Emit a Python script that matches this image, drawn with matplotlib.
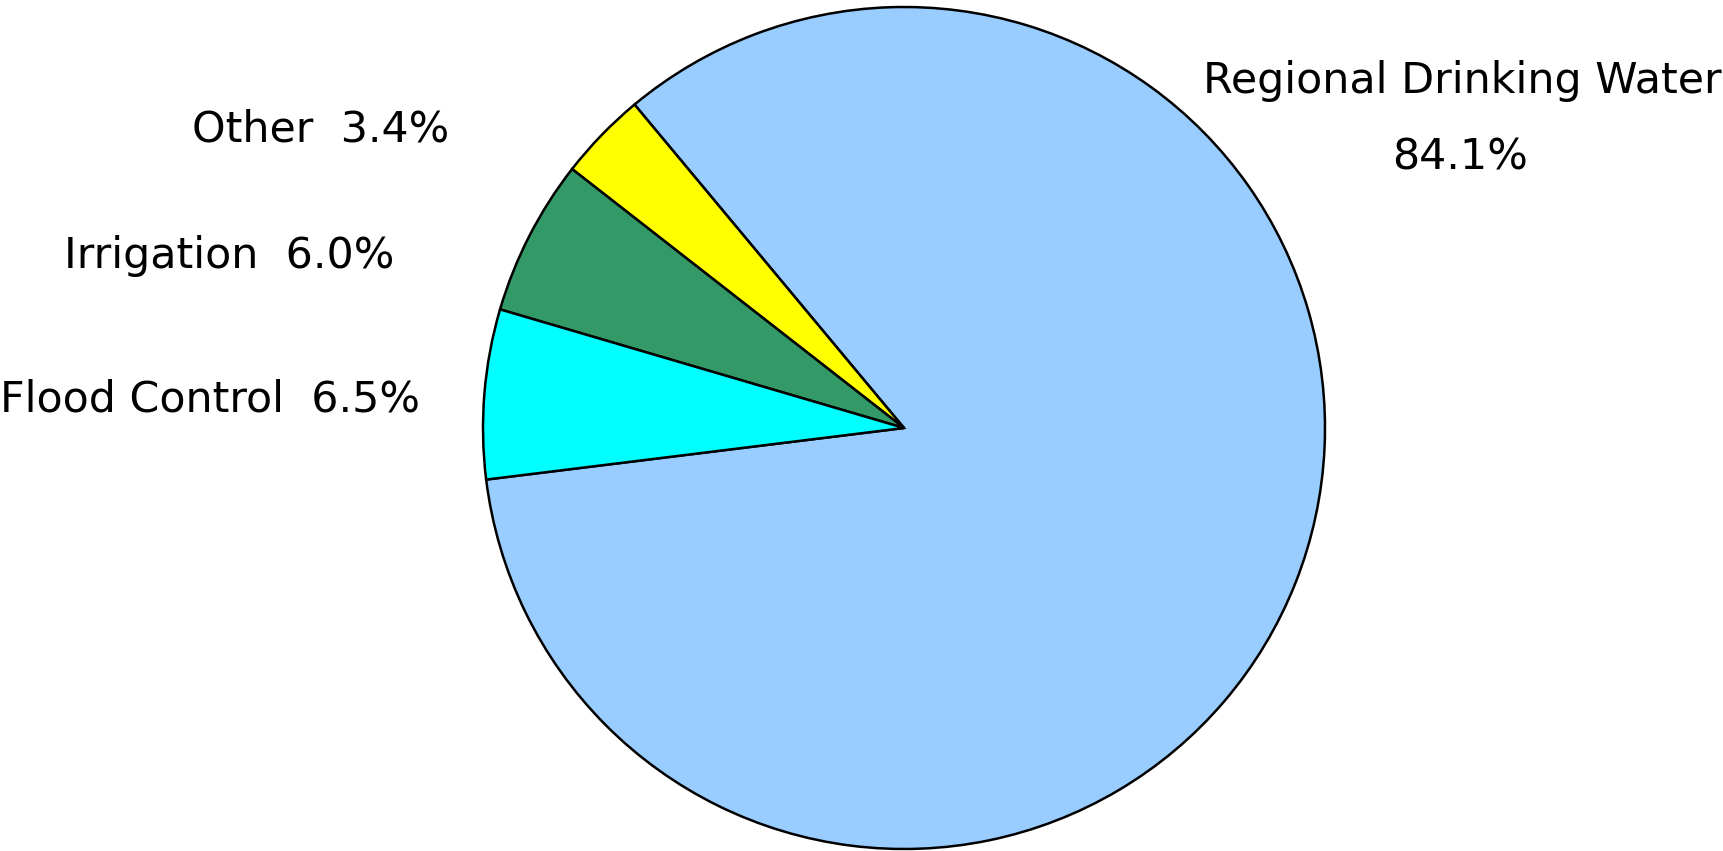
import matplotlib.pyplot as plt

# shares of the water use, in percent
categories = ['Regional Drinking Water', 'Other', 'Irrigation', 'Flood Control']
shares = [84.1, 3.4, 6.0, 6.5]
colors = ['#99ccff', '#ffff00', '#339966', '#00ffff']

W, H = 1723, 851
fig = plt.figure(figsize=(W / 100, H / 100), dpi=100)
ax = fig.add_axes([0, 0, 1, 1])

# regional slice ends at ~130 deg, going counter clockwise
start = 129.8 - shares[0] / 100 * 360
ax.pie(shares, colors=colors, startangle=start, counterclock=True,
       center=(904, 423), radius=421, frame=True,
       wedgeprops=dict(edgecolor='black', linewidth=1.8))
ax.set_xlim(0, W)
ax.set_ylim(0, H)
ax.set_aspect('equal')
ax.axis('off')

fs = 30.8
ax.text(1462, H - 93, categories[0], fontsize=fs, ha='center', va='baseline')
ax.text(1460, H - 170, '%.1f%%' % shares[0], fontsize=fs, ha='center', va='baseline')
ax.text(192, H - 142, '%s  %.1f%%' % (categories[1], shares[1]), fontsize=fs, va='baseline')
ax.text(64, H - 268, '%s  %.1f%%' % (categories[2], shares[2]), fontsize=fs, va='baseline')
ax.text(0, H - 412, '%s  %.1f%%' % (categories[3], shares[3]), fontsize=fs, va='baseline')

fig.savefig('out.png', dpi=100)
